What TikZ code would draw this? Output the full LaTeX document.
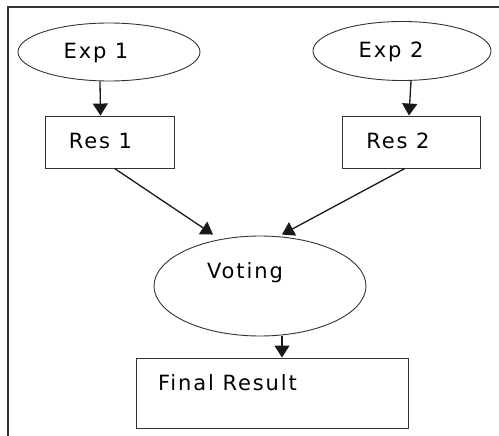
\documentclass[tikz,border=0pt]{standalone}
\usepackage{fontspec}
\setmainfont{DejaVu Sans}[LetterSpace=9]
\usetikzlibrary{shapes.geometric, arrows.meta}

\begin{document}
\begin{tikzpicture}[x=1pt, y=-1pt, font=\fontsize{21}{25}\selectfont,
		every node/.style={line width=0.9pt, draw=black!80, inner sep=0pt},
		expnode/.style={ellipse, minimum width=182pt, minimum height=58pt},
		resnode/.style={rectangle, minimum height=52pt},
		txt/.style={draw=none, text=black},
		arr/.style={-{Triangle[width=15pt, length=12pt]}, line width=1.3pt, black!90}]

			\useasboundingbox (0,0) rectangle (499,436);

			% frame
			\draw[line width=1.8pt, black!80] (8,436) -- (8,7) -- (499,7);

			\node[expnode, label={[txt, xshift=-13pt, yshift=-1pt]center:Exp 1}] (exp1) at (109,52) {}; % exp 1
			\node[expnode, minimum width=178pt, minimum height=59pt, label={[txt, xshift=-11pt, yshift=-1pt]center:Exp 2}] (exp2) at (402,51) {}; % exp 2
			\node[resnode, minimum width=129pt, label={[txt, xshift=-9pt, yshift=1pt]center:Res 1}] (res1) at (109.5,142) {};
			\node[resnode, minimum width=138pt, label={[txt, xshift=-13pt, yshift=1pt]center:Res 2}] (res2) at (411,142) {};
			\node[ellipse, minimum width=212pt, minimum height=100pt, label={[txt, xshift=-15pt, yshift=13pt]center:Voting}] (voting) at (260,286) {};
			\node[rectangle, minimum width=272pt, minimum height=70pt, label={[txt, anchor=west, xshift=22pt, yshift=10pt]west:Final Result}] (final) at (272,393) {};

			\draw[arr] ([xshift=-9pt]exp1.south) -- ([xshift=-9pt]res1.north);
			\draw[arr] (exp2.south -| res2.north) -- ([xshift=-2pt]res2.north);
			\draw[arr] ([xshift=5pt]res1.south) -- ([xshift=-47pt, yshift=1pt]voting.north);
			\draw[arr] ([xshift=-6pt]res2.south) -- ([xshift=22pt, yshift=1pt]voting.north);
			\draw[arr] ([xshift=22pt]voting.south) -- ([xshift=10pt]final.north);
		\end{tikzpicture}
\end{document}
